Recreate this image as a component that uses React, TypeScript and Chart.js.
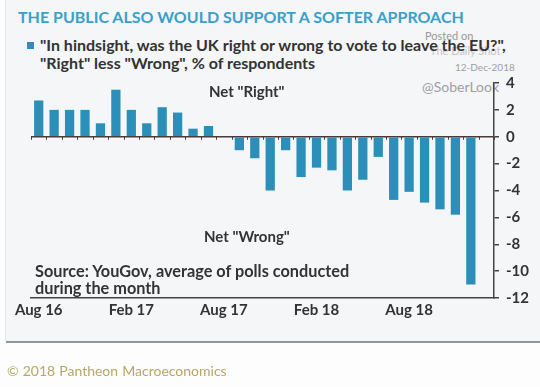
import React, { useEffect, useRef } from "react";
import { Chart, registerables } from "chart.js";

Chart.register(...registerables);

const months = [
  "Aug 16", "Sep 16", "Oct 16", "Nov 16", "Dec 16", "Jan 17", "Feb 17", "Mar 17",
  "Apr 17", "May 17", "Jun 17", "Jul 17", "Aug 17", "Sep 17", "Oct 17", "Nov 17",
  "Dec 17", "Jan 18", "Feb 18", "Mar 18", "Apr 18", "May 18", "Jun 18", "Jul 18",
  "Aug 18", "Sep 18", "Oct 18", "Nov 18", "Dec 18", "Jan 19",
];
const netRight: (number | null)[] = [
  2.7, 2.0, 2.0, 2.0, 1.0, 3.5, 2.0, 1.0, 2.2, 1.8, 0.6, 0.8, null,
  -1.0, -1.6, -4.0, -1.0, -3.0, -2.3, -2.5, -4.0, -3.2, -1.5, -4.7,
  -4.1, -4.9, -5.4, -5.8, -11.0, null,
];
const shownTicks = ["Aug 16", "Feb 17", "Aug 17", "Feb 18", "Aug 18"];
const yMin = -12;
const yMax = 4;
const yStep = 2;

const FONT = "Lato, 'DejaVu Sans', sans-serif";
const BAR = "#2b8fb9";
const DARK = "#333333";

const zeroTicks = {
  id: "zeroTicks",
  afterDatasetsDraw(chart: any) {
    const x = chart.scales.x;
    const y = chart.scales.y;
    const ctx = chart.ctx;
    const y0 = y.getPixelForValue(0);
    const n = chart.data.labels.length;
    const step = n > 1 ? x.getPixelForTick(1) - x.getPixelForTick(0) : 0;
    ctx.save();
    ctx.strokeStyle = "#4a3a3a";
    ctx.lineWidth = 1;
    for (let i = 0; i <= n; i++) {
      const px = Math.round(x.getPixelForTick(0) - step / 2 + i * step) + 0.5;
      ctx.beginPath();
      ctx.moveTo(px, y0);
      ctx.lineTo(px, y0 + 3);
      ctx.stroke();
    }
    ctx.restore();
  },
};

function BarChart() {
  const ref = useRef<HTMLCanvasElement | null>(null);
  useEffect(() => {
    if (!ref.current) return;
    const chart = new Chart(ref.current, {
      type: "bar",
      data: {
        labels: months,
        datasets: [
          {
            label: "Right less Wrong",
            data: netRight as any,
            backgroundColor: BAR,
            borderWidth: 0,
            categoryPercentage: 1,
            barPercentage: 0.6,
          },
        ],
      },
      options: {
        animation: false,
        responsive: false,
        devicePixelRatio: 1,
        layout: { padding: { left: 31, top: 83, right: 0, bottom: 0 } },
        plugins: {
          legend: { display: false },
          tooltip: { enabled: false },
        },
        scales: {
          x: {
            offset: true,
            grid: { display: false },
            border: { display: true, color: "#444", width: 1.5 },
            ticks: {
              autoSkip: false,
              maxRotation: 0,
              padding: -5,
              color: DARK,
              font: { family: FONT, size: 15, weight: "bold" },
              callback: (_v: any, i: number) => (shownTicks.includes(months[i]) ? months[i] : ""),
            },
            afterFit: (s: any) => {
              s.height = 89;
            },
          },
          y: {
            position: "right",
            min: yMin,
            max: yMax,
            ticks: {
              stepSize: yStep,
              padding: 7,
              color: DARK,
              font: { family: FONT, size: 15, weight: "bold" },
            },
            grid: {
              drawOnChartArea: true,
              drawTicks: true,
              tickLength: 5,
              color: (c: any) => (c.tick && c.tick.value === 0 ? "#4a3a3a" : "rgba(0,0,0,0)"),
              tickColor: "#444",
              lineWidth: 1.5,
            },
            border: { display: true, color: "#444", width: 1.5 },
            afterFit: (s: any) => {
              s.width = 46;
            },
          },
        },
      },
      plugins: [zeroTicks],
    });
    return () => chart.destroy();
  }, []);
  return (
    <canvas
      ref={ref}
      width={540}
      height={387}
      style={{ position: "absolute", left: 0, top: 0, width: 540, height: 387 }}
    />
  );
}

const abs = (o: React.CSSProperties): React.CSSProperties => ({
  position: "absolute",
  whiteSpace: "nowrap",
  margin: 0,
  lineHeight: 1,
  ...o,
});

export default function App() {
  return (
    <div
      style={{
        position: "absolute",
        left: 0,
        top: 0,
        width: 540,
        height: 387,
        background: "#fdfdfd",
        overflow: "hidden",
        fontFamily: FONT,
      }}
    >
      <div style={abs({ left: 5, top: 0, width: 535, height: 341, background: "#f4f6f8", borderLeft: "1px solid #e4e7ea" })} />
      <div style={abs({ left: 6, top: 341, width: 534, height: 2, background: "#8d979f" })} />
      <div style={abs({ left: 18, top: 9, fontSize: 16, fontWeight: 700, color: "#3a9fca" })}>
        THE PUBLIC ALSO WOULD SUPPORT A SOFTER APPROACH
      </div>
      <div style={abs({ left: 425, top: 30, fontSize: 11, color: "#9a9a9a" })}>Posted on</div>
      <div style={abs({ left: 430, top: 45, fontSize: 11, color: "#c4c4c4" })}>The Daily Shot</div>
      <div style={abs({ left: 455, top: 62, fontSize: 10, color: "#a0a0a0" })}>12-Dec-2018</div>
      <div style={abs({ left: 27, top: 42, width: 7, height: 7, background: BAR })} />
      <div style={abs({ left: 40, top: 37, fontSize: 16, fontWeight: 700, color: DARK })}>
        "In hindsight, was the UK right or wrong to vote to leave the EU?",
      </div>
      <div style={abs({ left: 40, top: 55, fontSize: 16, fontWeight: 700, color: DARK })}>
        "Right" less "Wrong", % of respondents
      </div>
      <div style={abs({ left: 422, top: 80, fontSize: 14, color: "#a0a0a0" })}>@SoberLook</div>
      <BarChart />
      <div style={abs({ left: 209, top: 84, fontSize: 15, fontWeight: 700, color: DARK })}>Net "Right"</div>
      <div style={abs({ left: 204, top: 229, fontSize: 15, fontWeight: 700, color: DARK })}>Net "Wrong"</div>
      <div style={abs({ left: 35, top: 263, fontSize: 16.3, fontWeight: 700, color: DARK })}>
        Source: YouGov, average of polls conducted
      </div>
      <div style={abs({ left: 35, top: 280, fontSize: 16.3, fontWeight: 700, color: DARK })}>during the month</div>
      <div style={abs({ left: 7, top: 364, fontSize: 14, color: "#b5a867", wordSpacing: 0.5 })}>
        © 2018 Pantheon Macroeconomics
      </div>
    </div>
  );
}
